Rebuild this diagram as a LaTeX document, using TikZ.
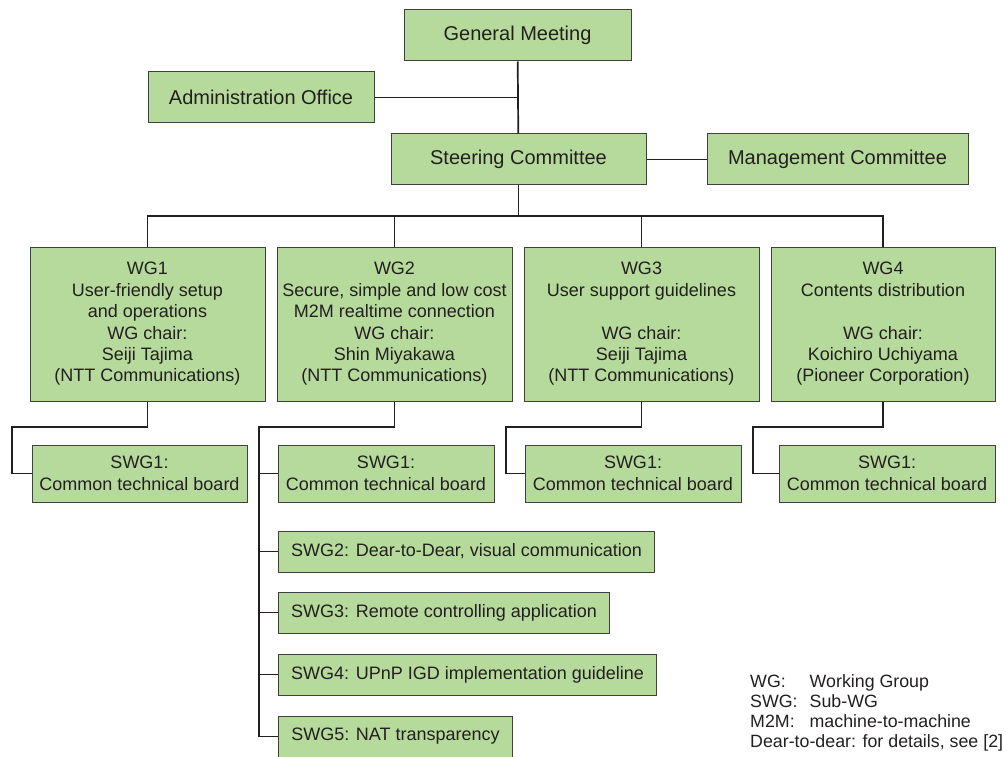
\documentclass[tikz,border=0pt]{standalone}
\usepackage{fontspec}
\setmainfont{Liberation Sans}
\usetikzlibrary{calc}
\definecolor{boxgreen}{RGB}{182,218,156}
\definecolor{ink}{RGB}{35,31,32}

\begin{document}
\begin{tikzpicture}[x=1pt,y=-1pt,
	box/.style={draw=black!75,line width=1pt,fill=boxgreen,text=ink,align=center,inner sep=0pt,font=\fontsize{18}{21.4}\selectfont},
	topbox/.style={box,font=\fontsize{20}{24}\selectfont,minimum height=51pt},
	wgbox/.style={box,minimum width=235pt,minimum height=154pt},
	swgbox/.style={box,minimum width=216pt,minimum height=57pt},
	subbox/.style={box,anchor=west,minimum height=41pt},
	conn/.style={draw=ink,line width=1.7pt}]
			          %org chart, y grows downward, units = px of the reference
			          \useasboundingbox (0,0) rectangle (1007,757);

			          \node[topbox,minimum width=227pt](gm) at (517.5,35.5){General Meeting};
			          \node[topbox,minimum width=226pt](adm) at (261,97.5){Administration Office};
			          \node[topbox,minimum width=255pt](steer) at (518.5,159.5){Steering Committee};
			          \node[topbox,minimum width=261pt](mgmt) at (837.5,159.5){Management Committee};

			          \node[wgbox](wg1) at (147.5,324){WG1\\User-friendly setup\\and operations\\WG chair:\\Seiji Tajima\\(NTT Communications)};
			          \node[wgbox](wg2) at (394.5,324){WG2\\Secure, simple and low cost\\M2M realtime connection\\WG chair:\\Shin Miyakawa\\(NTT Communications)};
			          \node[wgbox](wg3) at (641.5,324){WG3\\User support guidelines\\[21.4pt]WG chair:\\Seiji Tajima\\(NTT Communications)};
			          \node[wgbox,minimum width=224pt](wg4) at (883,324){WG4\\Contents distribution\\[21.4pt]WG chair:\\Koichiro Uchiyama\\(Pioneer Corporation)};

			          \node[swgbox,minimum width=215pt](s1a) at (139.5,473.5){SWG1:\\Common technical board};
			          \node[swgbox](s1b) at (386,473.5){SWG1:\\Common technical board};
			          \node[swgbox](s1c) at (633,473.5){SWG1:\\Common technical board};
			          \node[swgbox](s1d) at (887,473.5){SWG1:\\Common technical board};
			          \node[subbox,minimum width=376pt](s2) at (278,551.5){SWG2: Dear-to-Dear, visual communication};
			          \node[subbox,minimum width=331pt](s3) at (278,612.5){SWG3: Remote controlling application};
			          \node[subbox,minimum width=378pt](s4) at (278,674.5){SWG4: UPnP IGD implementation guideline};
			          \node[subbox,minimum width=234pt](s5) at (278,736.5){SWG5: NAT transparency};

			          \coordinate (bus) at (518.5,216);
			          \coordinate (k1) at (12,427);
			          \coordinate (k2) at (259,427);
			          \coordinate (k3) at (506,427);
			          \coordinate (k4) at (753,427);

			          \draw[conn] (gm) -- (steer);
			          \draw[conn] (adm) -- (adm -| gm);
			          \draw[conn] (steer) -- (mgmt);
			          \draw[conn] (steer) -- (bus);
			          \draw[conn] (wg1.north) |- (bus) -| (wg4.north);
			          \draw[conn] (wg2.north) |- (bus) -| (wg3.north);
			          \draw[conn] (wg1.south) |- (k1) |- (s1a.west);
			          \draw[conn] (wg3.south) |- (k3) |- (s1c.west);
			          \draw[conn] (wg4.south) |- (k4) |- (s1d.west);
			          \draw[conn] (wg2.south) |- (k2) |- (s5.west);
			          \foreach \s in {s1b,s2,s3,s4}
			          	\draw[conn] (k2 |- \s.west) -- (\s.west);

			          \node[anchor=west,inner sep=0pt,text=ink,font=\fontsize{17.8}{20}\selectfont](legend) at (750,713){%
			          \begin{tabular}{@{}l@{\hspace{12pt}}l@{}}
			          WG: & Working Group\\
			          SWG: & Sub-WG\\
			          M2M: & machine-to-machine\\
			          \multicolumn{2}{@{}l@{}}{Dear-to-dear: for details, see [2]}
			          \end{tabular}};
\end{tikzpicture}
\end{document}
